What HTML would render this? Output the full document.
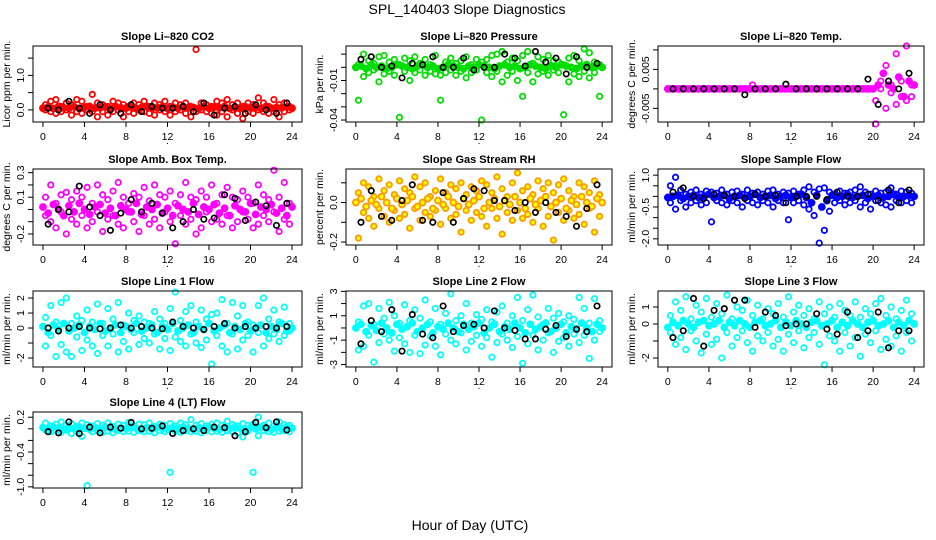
<!DOCTYPE html>
<html><head><meta charset="utf-8"><style>
html,body{margin:0;padding:0;background:#fff;}
svg{display:block;font-family:"Liberation Sans",Arial,sans-serif;}
</style></head><body>
<svg id="chart" width="936" height="540" viewBox="0 0 936 540" xmlns="http://www.w3.org/2000/svg">
<rect width="936" height="540" fill="#fff"/>
<text x="467" y="14" text-anchor="middle" font-size="14">SPL_140403  Slope Diagnostics</text>
<text x="470" y="530" text-anchor="middle" font-size="14">Hour of Day (UTC)</text>
</svg>
<script>
const hoursA = [0.25,0.75,1.25,1.75,2.25,2.75,3.25,3.75,4.25,4.75,5.25,5.75,6.25,6.75,7.25,7.75,8.25,8.75,9.25,9.75,10.25,10.75,11.25,11.75,12.25,12.75,13.25,13.75,14.25,14.75,15.25,15.75,16.25,16.75,17.25,17.75,18.25,18.75,19.25,19.75,20.25,20.75,21.25,21.75,22.25,22.75,23.25,23.75];
const hoursB = [0.5,1.5,2.5,3.5,4.5,5.5,6.5,7.5,8.5,9.5,10.5,11.5,12.5,13.5,14.5,15.5,16.5,17.5,18.5,19.5,20.5,21.5,22.5,23.5];
const hoursC = [0.0,0.5,1.0,1.5,2.0,2.5,3.0,3.5,4.0,4.5,5.0,5.5,6.0,6.5,7.0,7.5,8.0,8.5,9.0,9.5,10.0,10.5,11.0,11.5,12.0,12.5,13.0,13.5,14.0,14.5,15.0,15.5,16.0,16.5,17.0,17.5,18.0,18.5,19.0,19.5,20.0,20.5,21.0,21.5,22.0,22.5,23.0,23.5,24.0];
const xTicks = [0,4,8,12,16,20,24];

const co2Hi = [0.15,0.25,0.3,0.1,0.2,0.15,0.3,0.25,0.1,0.45,0.2,0.15,0.1,0.25,0.2,0.15,0.1,0.2,0.15,0.25,0.1,0.2,0.15,0.25,0.1,0.2,0.15,0.2,0.1,1.75,0.2,0.15,0.1,0.25,0.2,0.3,0.15,0.2,0.1,0.2,0.15,0.35,0.2,0.1,0.3,0.15,0.2,0.1];
const co2Mid = [0.05,0.08,0.04,0.1,0.06,0.05,0.09,0.04,0.07,0.1,0.05,0.06,0.08,0.04,0.1,0.06,0.05,0.08,0.04,0.07,0.1,0.05,0.06,0.09,0.04,0.08,0.05,0.1,0.06,0.07,0.04,0.09,0.05,0.08,0.06,0.1,0.04,0.07,0.05,0.09,0.06,0.08,0.04,0.1,0.05,0.07,0.06,0.08,0.05];
const co2Lo = [0.0,-0.05,-0.1,-0.05,0.0,-0.15,-0.05,-0.1,0.0,-0.05,-0.2,-0.05,-0.15,-0.05,0.0,-0.2,-0.05,-0.1,0.0,-0.05,-0.1,-0.15,0.0,-0.05,-0.15,-0.05,0.0,-0.1,-0.2,-0.05,0.0,-0.05,-0.1,-0.15,-0.05,-0.2,0.0,-0.1,-0.25,-0.05,-0.1,0.0,-0.05,-0.1,-0.05,-0.2,-0.05,0.0];
const co2Blk = [0.05,0.0,0.25,0.05,-0.1,0.15,0.0,-0.1,0.15,-0.05,0.1,0.05,0.05,0.1,-0.05,0.2,-0.15,0.05,0.1,-0.1,0.15,0.0,-0.1,0.2];

const presHi = [0.002,0.01,0.005,0.003,0.008,0.009,0.004,0.006,0.002,0.007,0.005,0.008,0.003,0.006,0.002,0.009,-0.006,0.004,0.007,0.003,0.005,0.008,0.002,0.006,0.004,0.006,0.009,0.01,0.012,0.004,0.007,0.005,0.009,0.012,0.003,0.008,0.006,0.009,0.005,0.004,0.002,0.007,0.009,0.005,0.014,0.011,0.004,0.002];
const presMid = [0.0,0.001,-0.001,0.002,0.0,0.001,-0.001,0.0,0.002,0.001,0.0,-0.001,0.001,0.002,0.0,0.001,-0.001,0.0,0.002,0.001,0.0,-0.001,0.001,0.0,0.002,0.001,0.0,-0.001,0.001,0.002,0.0,0.001,-0.001,0.0,0.002,0.001,0.0,-0.001,0.001,0.0,0.002,0.001,0.0,-0.001,0.001,0.002,0.0,0.001,0.0];
const presLo = [-0.025,-0.007,-0.004,-0.002,-0.011,-0.005,-0.003,-0.006,-0.038,-0.003,-0.01,-0.004,-0.002,-0.006,-0.003,-0.005,-0.025,-0.004,-0.002,-0.006,-0.003,-0.008,-0.004,-0.002,-0.04,-0.004,-0.007,-0.003,-0.011,-0.006,-0.003,-0.01,-0.022,-0.004,-0.011,-0.005,-0.003,-0.006,-0.002,-0.004,-0.036,-0.011,-0.005,-0.007,-0.003,-0.008,-0.004,-0.022];
const presBlk = [0.006,0.008,0.0,0.001,-0.008,0.003,0.002,0.008,0.0,0.0,0.007,-0.002,0.0,0.0,0.01,0.007,0.001,0.012,0.004,0.007,-0.005,0.008,0.0,0.003];

const tempHi = [0,0,0,0,0,0,0,0,0,0,0,0,0,0,0,0,0,0,0,0,0,0,0,0,0,0,0,0,0,0,0,0,0,0,0,0,0,0,0,0,-0.009,0.002,0.006,-0.001,0.009,0.002,0.011,0.001];
const tempMid = [0,0,0,0,0,0,0,0,0,0,0,0,0,0,0,0,0,0,0,0,0,0,0,0,0,0,0,0,0,0,0,0,0,0,0,0,0,0,0,0,0,0.001,0.004,0.001,0.0,0.003,-0.002,0.002,0.001];
const tempLo = [0,0,0,0,0,0,0,0,0,0,0,0,0,0,0,0,0.001,0,0,0,0,0,0,0,0,0,0,0,0,0,0,0,0,0,0,0,0,0,0,0,-0.003,0.0,-0.005,0.001,-0.004,-0.002,-0.003,-0.002];
const tempBlk = [0,0,0,0,0,0,0,-0.0015,0,0,0,0.0012,0,0,0,0,0,0,0,0.0025,-0.004,0.002,0,0.004];

const ambHi = [0.1,0.2,0.05,0.12,0.14,0.08,0.15,0.1,0.18,0.05,0.2,0.12,0.08,0.15,0.22,0.1,0.05,0.13,0.1,0.18,0.07,0.2,0.12,0.1,0.15,0.05,0.12,0.22,0.1,0.08,0.15,0.1,0.2,0.05,0.12,0.18,0.1,0.08,0.15,0.1,0.05,0.2,0.12,0.08,0.32,0.1,0.22,0.05];
const ambMid = [0.02,-0.03,0.04,0.0,-0.05,0.03,-0.02,0.05,0.0,-0.04,0.02,0.04,-0.03,0.01,-0.05,0.03,0.0,-0.02,0.05,-0.04,0.02,0.0,0.04,-0.03,0.01,-0.05,0.03,0.0,-0.02,0.05,-0.04,0.02,0.0,0.04,-0.03,0.01,-0.05,0.03,0.0,-0.02,0.05,-0.04,0.02,0.0,0.04,-0.03,0.01,-0.05,0.02];
const ambLo = [-0.05,-0.1,-0.15,-0.02,-0.2,-0.08,-0.12,-0.05,-0.15,-0.1,-0.02,-0.18,-0.08,-0.05,-0.12,-0.15,-0.02,-0.1,-0.18,-0.05,-0.12,-0.08,-0.15,-0.02,-0.1,-0.28,-0.05,-0.12,-0.08,-0.2,-0.15,-0.02,-0.1,-0.08,-0.12,-0.05,-0.15,-0.1,-0.02,-0.08,-0.15,-0.12,-0.05,-0.1,-0.02,-0.18,-0.08,-0.12];
const ambBlk = [-0.12,0.0,-0.02,0.19,0.02,-0.05,-0.17,-0.03,0.08,-0.02,0.05,-0.03,-0.15,-0.1,0.0,-0.08,-0.07,0.12,0.09,-0.09,0.06,0.03,-0.13,0.05];

const rhHi = [0.05,0.1,0.08,0.03,0.12,0.06,0.09,0.04,0.11,0.07,0.05,0.13,0.08,0.1,0.03,0.06,0.12,0.05,0.09,0.07,0.1,0.04,0.08,0.06,0.11,0.09,0.05,0.13,0.07,0.03,0.1,0.15,0.06,0.08,0.04,0.11,0.07,0.1,0.05,0.09,0.12,0.06,0.03,0.1,0.08,0.05,0.11,0.04];
const rhMid = [0.0,0.02,-0.02,0.01,-0.01,0.03,0.0,-0.03,0.02,-0.01,0.01,0.03,-0.02,0.0,0.02,-0.03,0.01,-0.01,0.03,0.0,-0.02,0.02,-0.01,0.01,0.03,-0.03,0.0,0.02,-0.02,0.01,-0.01,0.03,0.0,-0.03,0.02,-0.01,0.01,0.03,-0.02,0.0,0.02,-0.03,0.01,-0.01,0.03,0.0,-0.02,0.02,0.0];
const rhLo = [-0.18,-0.05,-0.08,-0.12,-0.03,-0.07,-0.1,-0.04,-0.08,-0.06,-0.13,-0.03,-0.09,-0.05,-0.07,-0.04,-0.11,-0.03,-0.08,-0.06,-0.15,-0.04,-0.09,-0.05,-0.07,-0.12,-0.03,-0.08,-0.16,-0.05,-0.09,-0.04,-0.08,-0.06,-0.1,-0.03,-0.12,-0.07,-0.19,-0.05,-0.09,-0.04,-0.08,-0.06,-0.11,-0.03,-0.15,-0.07];
const rhBlk = [-0.1,0.06,-0.07,-0.09,0.01,0.09,-0.09,-0.1,0.05,-0.1,0.02,0.07,0.06,0.01,0.01,-0.04,0.0,-0.05,0.0,-0.05,-0.07,-0.12,-0.03,0.09];

const sfHi = [0.5,0.9,0.3,0.1,0.2,0.3,0.1,0.25,0.2,0.15,0.3,0.1,0.2,0.25,0.1,0.3,0.15,0.2,0.1,0.25,0.3,0.1,0.2,0.15,0.25,0.1,0.3,0.45,0.2,0.35,0.4,0.2,0.1,0.25,0.15,0.2,0.3,0.45,0.2,0.1,0.25,0.15,0.2,0.4,0.1,0.25,0.2,0.15];
const sfMid = [-0.05,0.0,0.05,-0.1,0.0,0.05,-0.05,0.0,0.1,-0.05,0.0,0.05,-0.1,0.0,0.05,-0.05,0.0,0.1,-0.05,0.0,0.05,-0.1,0.0,0.05,-0.05,0.0,0.1,-0.05,-0.3,0.05,-0.5,-0.2,0.05,-0.05,0.0,0.1,-0.05,0.0,0.05,-0.1,0.0,0.05,-0.05,0.0,0.1,-0.05,0.0,0.05,0.0];
const sfLo = [-0.3,-0.6,-0.2,-0.5,-0.3,-0.2,-0.4,-0.3,-1.2,-0.2,-0.3,-0.4,-0.2,-0.3,-0.5,-0.2,-0.3,-0.4,-0.2,-0.3,-0.5,-0.2,-0.3,-1.1,-0.3,-0.2,-0.4,-0.6,-0.9,-2.2,-1.6,-0.7,-0.3,-0.2,-0.4,-0.3,-0.2,-0.5,-0.3,-0.6,-0.2,-0.3,-0.4,-0.5,-0.2,-0.3,-0.2,-0.3];
const sfBlk = [0.2,0.4,0.0,-0.1,0.1,0.05,0.0,-0.1,0.1,0.0,0.05,-0.3,0.0,0.0,0.0,-0.15,0.2,0.0,0.0,0.1,-0.2,0.3,-0.3,0.3];

const l1Hi = [0.7,1.5,0.4,1.7,2.0,0.3,0.8,0.5,1.2,0.4,1.6,0.3,1.3,0.6,1.7,0.2,1.0,0.5,0.8,0.4,0.3,1.1,0.6,0.3,1.3,2.4,0.5,1.1,1.5,0.4,1.2,0.6,0.9,1.0,1.9,0.3,1.7,0.8,1.5,0.4,0.2,1.5,2.0,0.6,1.2,0.4,1.4,0.3];
const l1Mid = [0.1,-0.3,0.2,-0.1,0.3,-0.2,0.0,0.2,-0.3,0.1,-0.1,0.3,-0.2,0.0,0.2,-0.3,0.1,-0.1,0.3,-0.2,0.0,0.2,-0.3,0.1,-0.1,0.3,-0.2,0.0,0.2,-0.3,0.1,-0.1,0.3,-0.2,0.0,0.2,-0.3,0.1,-0.1,0.3,-0.2,0.0,0.2,-0.3,0.1,-0.1,0.3,-0.2,0.0];
const l1Lo = [-1.2,-0.5,-1.9,-1.1,-1.6,-1.9,-0.6,-1.5,-0.8,-1.2,-1.7,-0.5,-1.2,-0.4,-1.6,-0.9,-1.4,-0.3,-1.1,-0.7,-1.0,-0.4,-1.4,-0.7,-1.5,-0.6,-0.9,-1.2,-0.4,-1.0,-1.3,-0.8,-2.4,-0.5,-1.2,-1.6,-0.4,-1.4,-0.8,-0.5,-1.6,-0.3,-1.2,-0.7,-0.4,-0.9,-0.5,-0.2];
const l1Blk = [0.0,-0.2,0.0,0.1,0.0,-0.05,0.0,0.2,0.0,0.1,0.0,-0.05,0.4,0.1,0.0,-0.1,0.1,0.3,0.0,0.1,0.0,0.1,0.0,0.1];

const l2Hi = [0.5,1.8,2.0,0.3,1.6,0.8,2.1,1.0,0.4,1.9,0.6,1.5,0.8,2.3,0.5,1.6,0.3,1.2,2.8,0.6,1.0,2.0,0.4,1.1,0.7,1.5,0.5,1.3,1.8,0.4,1.0,2.5,0.6,1.5,2.7,0.9,0.3,1.6,0.8,1.2,0.5,1.0,0.7,2.5,1.6,0.4,2.4,0.6];
const l2Mid = [0.0,0.3,-0.3,0.2,-0.2,0.4,0.0,-0.4,0.3,-0.1,0.1,0.4,-0.3,0.0,0.3,-0.4,0.1,-0.1,0.4,0.0,-0.3,0.3,-0.1,0.1,0.4,-0.4,0.0,0.3,-0.3,0.1,-0.1,0.4,0.0,-0.4,0.3,-0.1,0.1,0.4,-0.3,0.0,0.3,-0.4,0.1,-0.1,0.4,0.0,-0.3,0.3,0.0];
const l2Lo = [-1.8,-1.5,-0.6,-2.8,-1.2,-0.5,-1.0,-1.9,-0.8,-1.3,-2.0,-0.6,-2.1,-1.4,-0.7,-1.5,-2.2,-0.5,-1.0,-1.3,-0.4,-1.8,-1.1,-0.6,-1.5,-0.8,-2.4,-1.2,-0.5,-1.0,-1.6,-0.7,-2.9,-1.3,-0.6,-1.8,-1.0,-0.4,-2.0,-1.1,-0.8,-1.5,-0.5,-1.2,-0.6,-2.5,-1.0,-0.3];
const l2Blk = [-1.3,0.6,-0.3,1.5,-1.9,1.1,-0.5,-0.8,1.8,-0.3,0.2,0.3,0.0,1.4,0.0,-0.2,-0.9,-0.9,-0.1,0.2,-0.7,-0.1,-0.3,1.8];

const l3Hi = [0.5,1.3,0.8,1.6,0.3,1.1,0.7,1.5,0.4,1.2,0.6,1.7,0.3,1.0,0.8,1.4,0.5,1.1,0.3,0.9,0.6,1.2,0.4,1.6,0.7,1.1,0.5,0.9,0.3,1.3,0.6,1.0,0.4,1.2,0.8,0.5,1.3,0.4,0.9,0.6,1.2,1.5,0.5,1.0,0.3,0.8,1.4,0.6];
const l3Mid = [-0.2,0.1,-0.1,0.2,0.0,-0.2,0.1,0.2,-0.1,0.0,0.2,-0.2,0.1,-0.1,0.2,0.0,-0.2,0.1,0.2,-0.1,0.0,0.2,-0.2,0.1,-0.1,0.2,0.0,-0.2,0.1,0.2,-0.1,0.0,0.2,-0.2,0.1,-0.1,0.2,0.0,-0.2,0.1,0.2,-0.1,0.0,0.2,-0.2,0.1,-0.1,0.2,0.0];
const l3Lo = [-0.5,-1.2,-0.8,-1.5,-0.4,-1.0,-1.7,-0.6,-1.2,-0.9,-2.0,-0.5,-1.3,-0.8,-0.4,-1.1,-1.6,-0.7,-1.0,-0.5,-1.3,-0.9,-1.6,-0.6,-1.1,-0.4,-1.4,-0.8,-0.5,-1.2,-2.4,-0.7,-1.0,-1.6,-0.5,-1.3,-0.8,-1.9,-0.6,-1.1,-0.4,-1.5,-0.9,-1.3,-0.7,-1.6,-0.5,-1.0];
const l3Blk = [-0.8,-0.4,1.5,-1.3,0.8,0.9,1.4,1.4,-0.2,0.7,0.5,-0.1,0.0,0.0,0.6,-0.3,-0.6,0.7,-0.8,-0.4,0.7,-1.4,-0.4,-0.4];

const l4Hi = [0.1,0.05,0.08,0.12,0.06,0.09,0.04,0.1,0.07,0.05,0.09,0.06,0.1,0.04,0.08,0.06,0.11,0.05,0.08,0.07,0.1,0.04,0.08,0.06,0.09,0.05,0.1,0.07,0.16,0.06,0.09,0.05,0.08,0.1,0.06,0.13,0.07,0.05,0.09,0.06,0.08,0.2,0.06,0.1,0.05,0.12,0.07,0.06];
const l4Mid = [0.02,0.0,0.03,0.01,-0.01,0.02,0.0,0.03,0.01,-0.01,0.02,0.0,0.03,0.01,-0.01,0.02,0.0,0.03,0.01,-0.01,0.02,0.0,0.03,0.01,-0.01,0.02,0.0,0.03,0.01,-0.01,0.02,0.0,0.03,0.01,-0.01,0.02,0.0,0.03,0.01,-0.01,0.02,0.0,0.03,0.01,-0.01,0.02,0.0,0.03,0.01];
const l4Lo = [-0.02,-0.05,-0.03,-0.06,-0.02,-0.08,-0.04,-0.13,-0.98,-0.05,-0.03,-0.06,-0.04,-0.07,-0.03,-0.05,-0.04,-0.06,-0.03,-0.05,-0.04,-0.07,-0.03,-0.05,-0.75,-0.04,-0.06,-0.03,-0.05,-0.04,-0.07,-0.03,-0.05,-0.04,-0.06,-0.03,-0.05,-0.07,-0.14,-0.04,-0.75,-0.12,-0.03,-0.05,-0.06,-0.04,-0.03,-0.05];
const l4Blk = [-0.05,-0.07,0.12,-0.08,0.03,-0.07,0.03,0.01,0.11,0.0,0.01,0.05,-0.08,-0.03,0.0,-0.03,0.03,0.02,-0.12,-0.05,0.11,0.02,0.12,-0.02];

const panels = [
 {name:'co2',title:'Slope Li\u2013820 CO2',ylab:'Licor ppm per min.',col:0,row:0,ymin:-0.35,ymax:1.85,ticks:[0,0.5,1,1.5],labels:['0.0','','1.0',''],hi:co2Hi,mid:co2Mid,lo:co2Lo,blk:co2Blk,color:'#ff0000',fill:'none'},
 {name:'pressure',title:'Slope Li\u2013820 Pressure',ylab:'kPa per min.',col:1,row:0,ymin:-0.0415,ymax:0.0162,ticks:[-0.04,-0.03,-0.02,-0.01,0,0.01],labels:['-0.04','','','-0.01','',''],hi:presHi,mid:presMid,lo:presLo,blk:presBlk,color:'#00dd00',fill:'none'},
 {name:'li820-temp',title:'Slope Li\u2013820 Temp.',ylab:'degrees C per min.',col:2,row:0,ymin:-0.0085,ymax:0.011,ticks:[-0.005,0,0.005,0.01],labels:['-0.005','','0.005',''],hi:tempHi,mid:tempMid,lo:tempLo,blk:tempBlk,color:'#ff00ff',fill:'none'},
 {name:'amb-box-temp',title:'Slope Amb. Box Temp.',ylab:'degrees C per min.',col:0,row:1,ymin:-0.29,ymax:0.33,ticks:[-0.2,-0.1,0,0.1,0.2,0.3],labels:['-0.2','','','0.1','','0.3'],hi:ambHi,mid:ambMid,lo:ambLo,blk:ambBlk,color:'#ff00ff',fill:'none'},
 {name:'gas-stream-rh',title:'Slope Gas Stream RH',ylab:'percent per min.',col:1,row:1,ymin:-0.215,ymax:0.17,ticks:[-0.2,-0.1,0,0.1],labels:['-0.2','','0.0',''],hi:rhHi,mid:rhMid,lo:rhLo,blk:rhBlk,color:'#ff9900',fill:'#ffff00'},
 {name:'sample-flow',title:'Slope Sample Flow',ylab:'ml/min per min.',col:2,row:1,ymin:-2.29,ymax:1.29,ticks:[-2,-1.5,-1,-0.5,0,0.5,1],labels:['-2.0','','','-0.5','','','1.0'],hi:sfHi,mid:sfMid,lo:sfLo,blk:sfBlk,color:'#0000ff',fill:'none'},
 {name:'line1-flow',title:'Slope Line 1 Flow',ylab:'ml/min per min.',col:0,row:2,ymin:-2.6,ymax:2.47,ticks:[-2,-1,0,1,2],labels:['-2','','0','1','2'],hi:l1Hi,mid:l1Mid,lo:l1Lo,blk:l1Blk,color:'#00ffff',fill:'none'},
 {name:'line2-flow',title:'Slope Line 2 Flow',ylab:'ml/min per min.',col:1,row:2,ymin:-3.2,ymax:3.03,ticks:[-3,-2,-1,0,1,2,3],labels:['-3','','-1','','1','','3'],hi:l2Hi,mid:l2Mid,lo:l2Lo,blk:l2Blk,color:'#00ffff',fill:'none'},
 {name:'line3-flow',title:'Slope Line 3 Flow',ylab:'ml/min per min.',col:2,row:2,ymin:-2.53,ymax:1.94,ticks:[-2,-1,0,1],labels:['-2','','0','1'],hi:l3Hi,mid:l3Mid,lo:l3Lo,blk:l3Blk,color:'#00ffff',fill:'none'},
 {name:'line4-flow',title:'Slope Line 4 (LT) Flow',ylab:'ml/min per min.',col:0,row:3,ymin:-1.02,ymax:0.29,ticks:[-1,-0.8,-0.6,-0.4,-0.2,0,0.2],labels:['-1.0','','','-0.4','','','0.2'],hi:l4Hi,mid:l4Mid,lo:l4Lo,blk:l4Blk,color:'#00ffff',fill:'none'}
];
const colL=[33,346,658], colR=[302,612,924], rowT=[46,169,291,412], PH=76;
const NS='http://www.w3.org/2000/svg';
const svg=document.getElementById('chart');
function mk(tag,attrs,parent){const e=document.createElementNS(NS,tag);for(const k in attrs)e.setAttribute(k,attrs[k]);(parent||svg).appendChild(e);return e;}
panels.forEach(p=>{
  const L=colL[p.col],R=colR[p.col],T=rowT[p.row],B=T+PH;
  const g=mk('g',{});
  
  
  const xs=h=>L+(h+0.96)/(25.92)*(R-L);
  const ys=v=>B-(v-p.ymin)/(p.ymax-p.ymin)*(B-T);
  const t=mk('text',{x:(L+R)/2,y:T-6,'text-anchor':'middle','font-size':11,'font-weight':'bold'},g);
  t.textContent=p.title;
  
  
  const yl=mk('text',{x:0,y:0,'text-anchor':'middle','font-size':10.5,transform:`translate(${L-23},${(T+B)/2}) rotate(-90)`},g);
  yl.textContent=p.ylab;
  
  
  const pts=mk('g',{},g);
  
  
  [p.lo,p.hi].forEach(arr=>arr.forEach((v,i)=>{
    const c=mk('circle',{cx:xs(hoursA[i]),cy:ys(v),r:2.7,fill:p.fill,stroke:p.color,'stroke-width':1.8},pts);
    
    
  }));
  p.mid.forEach((v,i)=>{
    const c=mk('circle',{cx:xs(hoursC[i]),cy:ys(v),r:3,fill:p.fill==='none'?p.color:p.fill,stroke:p.color,'stroke-width':1.8},pts);
    
    
  });
  p.blk.forEach((v,i)=>{
    const c=mk('circle',{cx:xs(hoursB[i]),cy:ys(v),r:2.7,fill:'none',stroke:'#000','stroke-width':1.7},pts);
    
    
  });
  const box=mk('rect',{x:L,y:T,width:R-L,height:PH,fill:'none',stroke:'#000','stroke-width':1},g);
  
  
  xTicks.forEach(h=>{
    mk('line',{x1:xs(h),x2:xs(h),y1:B,y2:B+5,stroke:'#000'},g);
    const tl=mk('text',{x:xs(h),y:B+18,'text-anchor':'middle','font-size':10.5},g);
    tl.textContent=h;
    
    
  });
  mk('line',{x1:xs(0),x2:xs(24),y1:B,y2:B,stroke:'#000'},g);
  const dot=mk('text',{x:(L+R)/2,y:B+22,'text-anchor':'middle','font-size':10},g);
  dot.textContent='.';
  p.ticks.forEach((v,i)=>{
    mk('line',{x1:L,x2:L-5,y1:ys(v),y2:ys(v),stroke:'#000'},g);
    if(p.labels[i]){
      const tl=mk('text',{x:0,y:0,'text-anchor':'middle','font-size':10.5,transform:`translate(${L-9},${ys(v)}) rotate(-90)`},g);
      tl.textContent=p.labels[i];
      
      
    }
  });
});
</script>
</body></html>
